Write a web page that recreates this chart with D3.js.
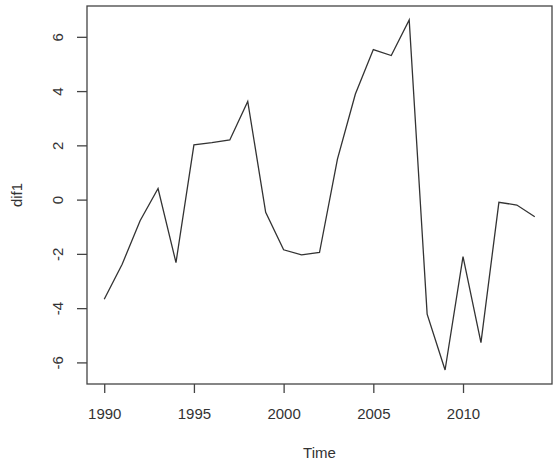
<!DOCTYPE html>
<html>
<head>
<meta charset="utf-8">
<script src="https://cdn.jsdelivr.net/npm/d3@7"></script>
<style>
  body { margin: 0; background: #fff; }
  svg text { font-family: "Liberation Sans", Arial, sans-serif; fill: #333; }
</style>
</head>
<body>
<div id="chart"></div>
<script>
// series
const years = [1990, 1991, 1992, 1993, 1994, 1995, 1996, 1997, 1998, 1999,
  2000, 2001, 2002, 2003, 2004, 2005, 2006, 2007, 2008, 2009,
  2010, 2011, 2012, 2013, 2014];
const dif1 = [-3.67, -2.38, -0.78, 0.41, -2.32, 2.02, 2.1, 2.2, 3.62, -0.47,
  -1.85, -2.04, -1.95, 1.49, 3.89, 5.53, 5.31, 6.62, -4.22, -6.28,
  -2.10, -5.27, -0.10, -0.20, -0.63];
const xTicks = [1990, 1995, 2000, 2005, 2010];
const yTicks = [-6, -4, -2, 0, 2, 4, 6];

const width = 554;
const height = 460;
const margin = {top: 6, right: 2, bottom: 76, left: 87};

const svg = d3.select('#chart').append('svg')
  .attr('width', width)
  .attr('height', height);

// R pads the data range by 4% on each side
const pad = (ext) => {
  const d = (ext[1] - ext[0]) * 0.04;
  return [ext[0] - d, ext[1] + d];
};

const x = d3.scaleLinear()
  .domain(pad(d3.extent(years)))
  .range([margin.left, width - margin.right]);

const y = d3.scaleLinear()
  .domain(pad(d3.extent(dif1)))
  .range([height - margin.bottom, margin.top]);

// box
svg.append('rect')
  .attr('x', margin.left)
  .attr('y', margin.top)
  .attr('width', width - margin.left - margin.right)
  .attr('height', height - margin.top - margin.bottom)
  .attr('fill', 'none')
  .attr('stroke', '#444')
  .attr('stroke-width', 1.3);

// x axis
const xAxis = svg.append('g')
  .attr('transform', `translate(0,${height - margin.bottom})`)
  .call(d3.axisBottom(x).tickValues(xTicks).tickFormat(d => String(d))
    .tickSize(9).tickPadding(15));
xAxis.select('.domain').remove();
xAxis.selectAll('line').attr('stroke', '#444').attr('stroke-width', 1.3);
xAxis.selectAll('text').style('font-size', '15px').attr('fill', '#333');

// y axis, labels rotated like R's default (plain hyphen minus)
const yAxis = svg.append('g')
  .attr('transform', `translate(${margin.left},0)`)
  .call(d3.axisLeft(y).tickValues(yTicks).tickSize(10).tickFormat(d => String(d)));
yAxis.select('.domain').remove();
yAxis.selectAll('line').attr('stroke', '#444').attr('stroke-width', 1.3);
yAxis.selectAll('text')
  .style('font-size', '15px')
  .attr('fill', '#333')
  .attr('x', null)
  .attr('dy', null)
  .attr('text-anchor', 'middle')
  .attr('transform', 'translate(-29,0) rotate(-90) translate(0,5)');

// the series
const line = d3.line()
  .x((d, i) => x(years[i]))
  .y(d => y(d));

svg.append('path')
  .datum(dif1)
  .attr('d', line)
  .attr('fill', 'none')
  .attr('stroke', '#333')
  .attr('stroke-width', 1.3);

// axis titles
svg.append('text')
  .attr('x', (margin.left + width - margin.right) / 2)
  .attr('y', 458)
  .attr('text-anchor', 'middle')
  .style('font-size', '15px')
  .text('Time');

svg.append('text')
  .attr('transform', `translate(22,${(margin.top + height - margin.bottom) / 2}) rotate(-90)`)
  .attr('text-anchor', 'middle')
  .style('font-size', '15px')
  .text('dif1');
</script>
</body>
</html>
